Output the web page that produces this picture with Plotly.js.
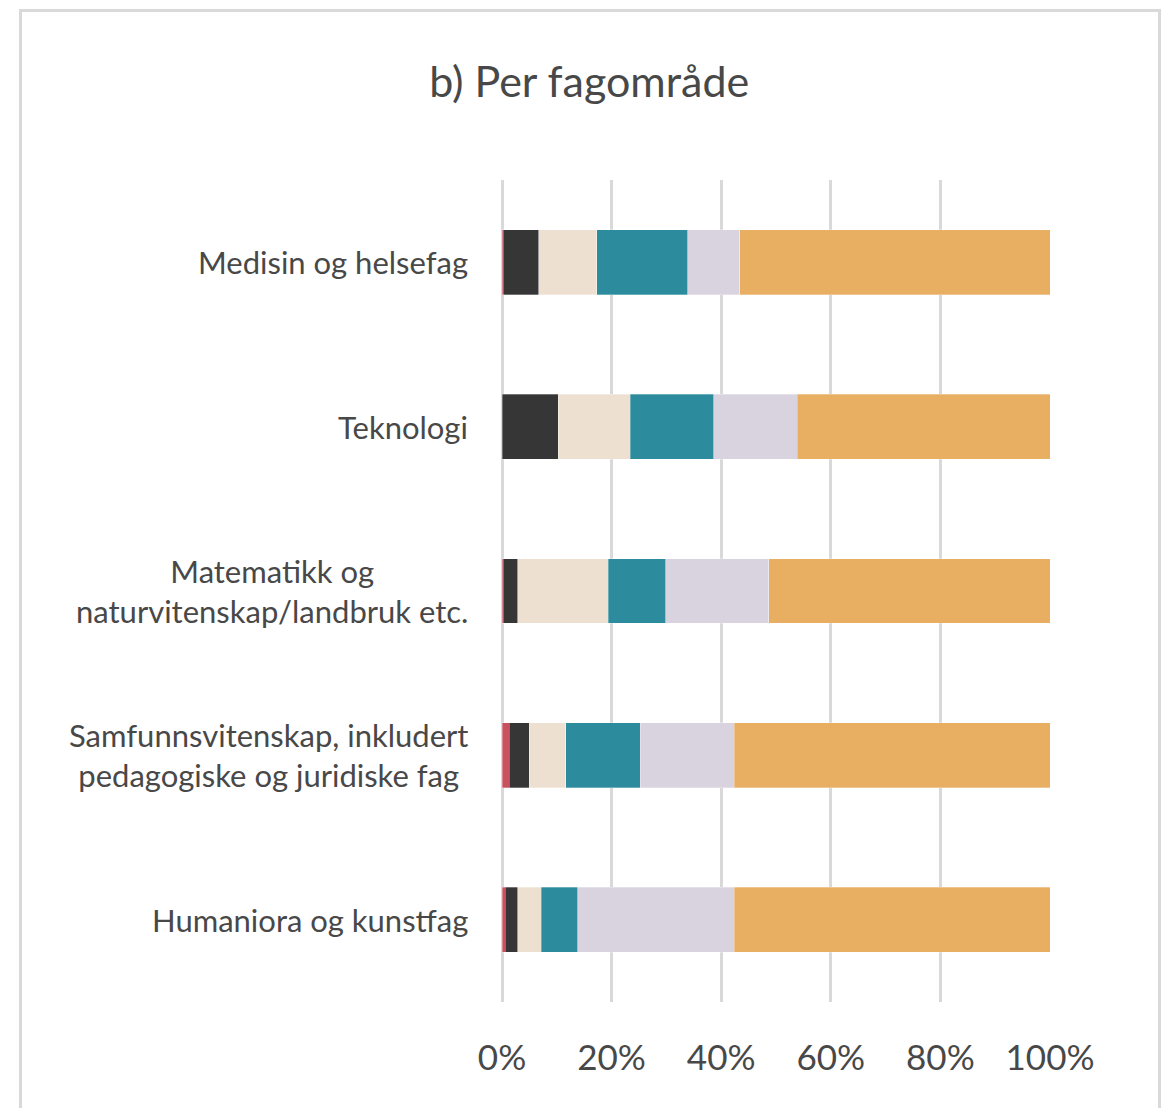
<!DOCTYPE html>
<html>
<head>
<meta charset="utf-8">
<script src="https://cdn.plot.ly/plotly-3.0.1.min.js"></script>
<style>
  html, body { margin: 0; padding: 0; background: #fff; }
  #wrap { position: relative; width: 1169px; height: 1108px; }
  #chart { width: 1169px; height: 1108px; }
  #frame { position: absolute; left: 19px; top: 9px; width: 1136px; height: 1120px;
           border: 3px solid #d9d9d9; border-bottom: none; pointer-events: none; }
</style>
</head>
<body>
<div id="wrap"><div id="chart"></div><div id="frame"></div></div>
<script>
const categories = [
  "Medisin og helsefag",
  "Teknologi",
  "Matematikk og<br>naturvitenskap/landbruk etc.",
  "Samfunnsvitenskap, inkludert<br>pedagogiske og juridiske fag",
  "Humaniora og kunstfag"
];
const seriesRed    = [0.2, 0.0, 0.2, 1.3, 0.6];
const seriesDark   = [6.5, 10.3, 2.7, 3.7, 2.3];
const seriesBeige  = [10.6, 13.1, 16.5, 6.6, 4.3];
const seriesTeal   = [16.6, 15.2, 10.5, 13.6, 6.6];
const seriesLilac  = [9.5, 15.3, 18.8, 17.2, 28.6];
const seriesOrange = [56.6, 46.1, 51.3, 57.6, 57.6];
const tickValues = [0, 20, 40, 60, 80, 100];
const tickLabels = ["0%", "20%", "40%", "60%", "80%", "100%"];

const seriesList = [
  {v: seriesRed, c: "#C9505F"},
  {v: seriesDark, c: "#363636"},
  {v: seriesBeige, c: "#EDE0D1"},
  {v: seriesTeal, c: "#2C8B9C"},
  {v: seriesLilac, c: "#D9D2DF"},
  {v: seriesOrange, c: "#E8AE62"}
];
const catIdx = categories.map((_, i) => i);
const traces = seriesList.map(s => ({
  type: "bar", orientation: "h",
  x: s.v, y: catIdx,
  marker: {color: s.c, line: {color: "rgba(255,255,255,0.6)", width: 0.5}},
  hoverinfo: "x"
}));

const font = "Lato, 'Open Sans', sans-serif";
const textColor = "#484848";
const annotations = categories.map((c, i) => ({
  text: c, x: 0, xref: "paper", y: i, yref: "y",
  xanchor: "right", yanchor: "middle", xshift: -32, align: "center",
  showarrow: false, font: {family: font, size: 31, color: textColor}
}));

const layout = {
  width: 1169, height: 1108,
  margin: {l: 502, r: 119, t: 180, b: 106},
  paper_bgcolor: "#fff", plot_bgcolor: "#fff",
  barmode: "stack", bargap: 0.605, showlegend: false,
  title: {text: "b) Per fagområde", x: 0.504, xanchor: "center", y: 0.926, yanchor: "middle",
          font: {family: font, size: 43, color: textColor}},
  xaxis: {range: [0, 100], tickvals: tickValues, ticktext: tickLabels,
          showgrid: true, gridcolor: "#d9d9d9", gridwidth: 3,
          zeroline: true, zerolinecolor: "#d9d9d9", zerolinewidth: 3,
          showline: false, ticks: "", ticklabelstandoff: 32,
          tickfont: {family: font, size: 35, color: textColor}, fixedrange: true},
  yaxis: {range: [4.5, -0.5], showticklabels: false, showgrid: false,
          zeroline: false, showline: false, fixedrange: true},
  annotations: annotations
};
Plotly.newPlot("chart", traces, layout, {displayModeBar: false, staticPlot: true});
</script>
</body>
</html>
